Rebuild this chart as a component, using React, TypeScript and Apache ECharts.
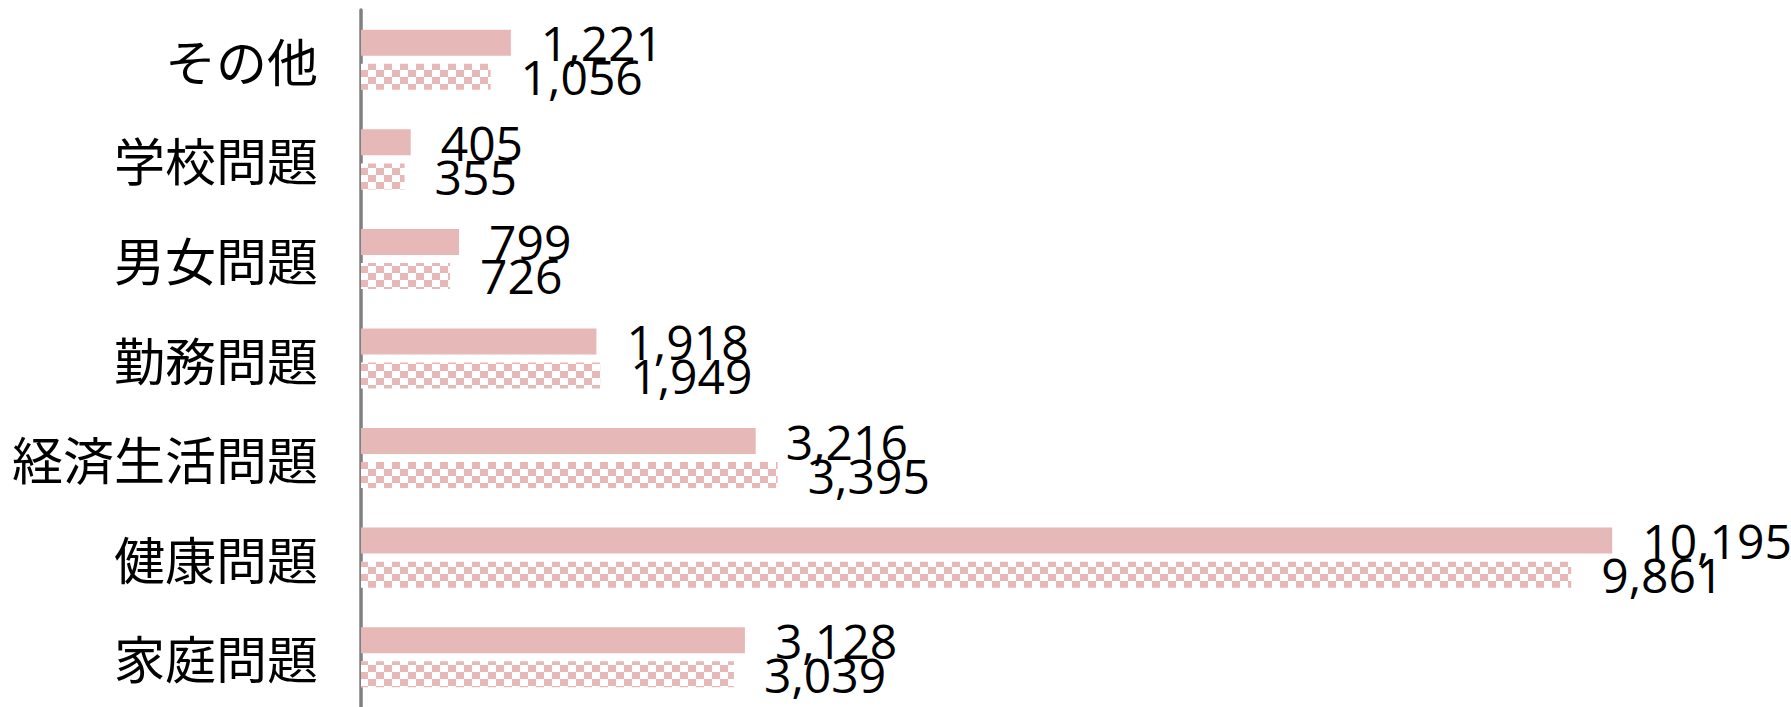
import React, { useEffect, useRef } from "react";
import * as echarts from "echarts";

const categories = ["家庭問題", "健康問題", "経済生活問題", "勤務問題", "男女問題", "学校問題", "その他"];
const seriesSolid = [3128, 10195, 3216, 1918, 799, 405, 1221]; // solid (upper bar)
const seriesChecked = [3039, 9861, 3395, 1949, 726, 355, 1056]; // checkered (lower bar)

const PINK = "#E6B8B7";
const fmt = (v: number) => v.toLocaleString("en-US");

export default function App() {
  const ref = useRef<HTMLDivElement>(null);
  useEffect(() => {
    if (!ref.current) return;
    const chart = echarts.init(ref.current, undefined, { renderer: "svg" });
    const label = {
      show: true,
      position: "right" as const,
      distance: 30,
      color: "#000",
      fontSize: 48,
      fontFamily: "Open Sans",
      formatter: (p: any) => fmt(p.value),
    };
    chart.setOption({
      animation: false,
      backgroundColor: "#ffffff",
      grid: { left: 361, top: 10, width: 1350, height: 700, containLabel: false },
      xAxis: {
        type: "value",
        min: 0,
        max: 11000,
        show: false,
        splitLine: { show: false },
      },
      yAxis: {
        type: "category",
        data: categories,
        axisLine: { show: true, lineStyle: { color: "#808080", width: 3.5 } },
        axisTick: { show: false },
        axisLabel: {
          margin: 43,
          fontSize: 51,
          color: "#000",
          fontFamily: "Noto Sans CJK JP",
        },
      },
      series: [
        {
          name: "系列2",
          type: "bar",
          data: seriesSolid,
          barWidth: 26,
          barGap: "31%",
          itemStyle: { color: PINK },
          label,
        },
        {
          name: "系列1",
          type: "bar",
          data: seriesChecked,
          barWidth: 26,
          barGap: "31%",
          itemStyle: {
            color: "#ffffff",
            decal: {
              symbol: "rect",
              symbolSize: 1,
              color: PINK,
              dashArrayX: [[7.5, 7.5], [0, 7.5, 7.5, 0]],
              dashArrayY: [6.5, 0],
              rotation: 0,
            },
          },
          label,
        },
      ],
    });
    return () => chart.dispose();
  }, []);
  return (
    <div
      ref={ref}
      style={{ position: "absolute", left: 0, top: 0, width: 1791, height: 707 }}
    />
  );
}
